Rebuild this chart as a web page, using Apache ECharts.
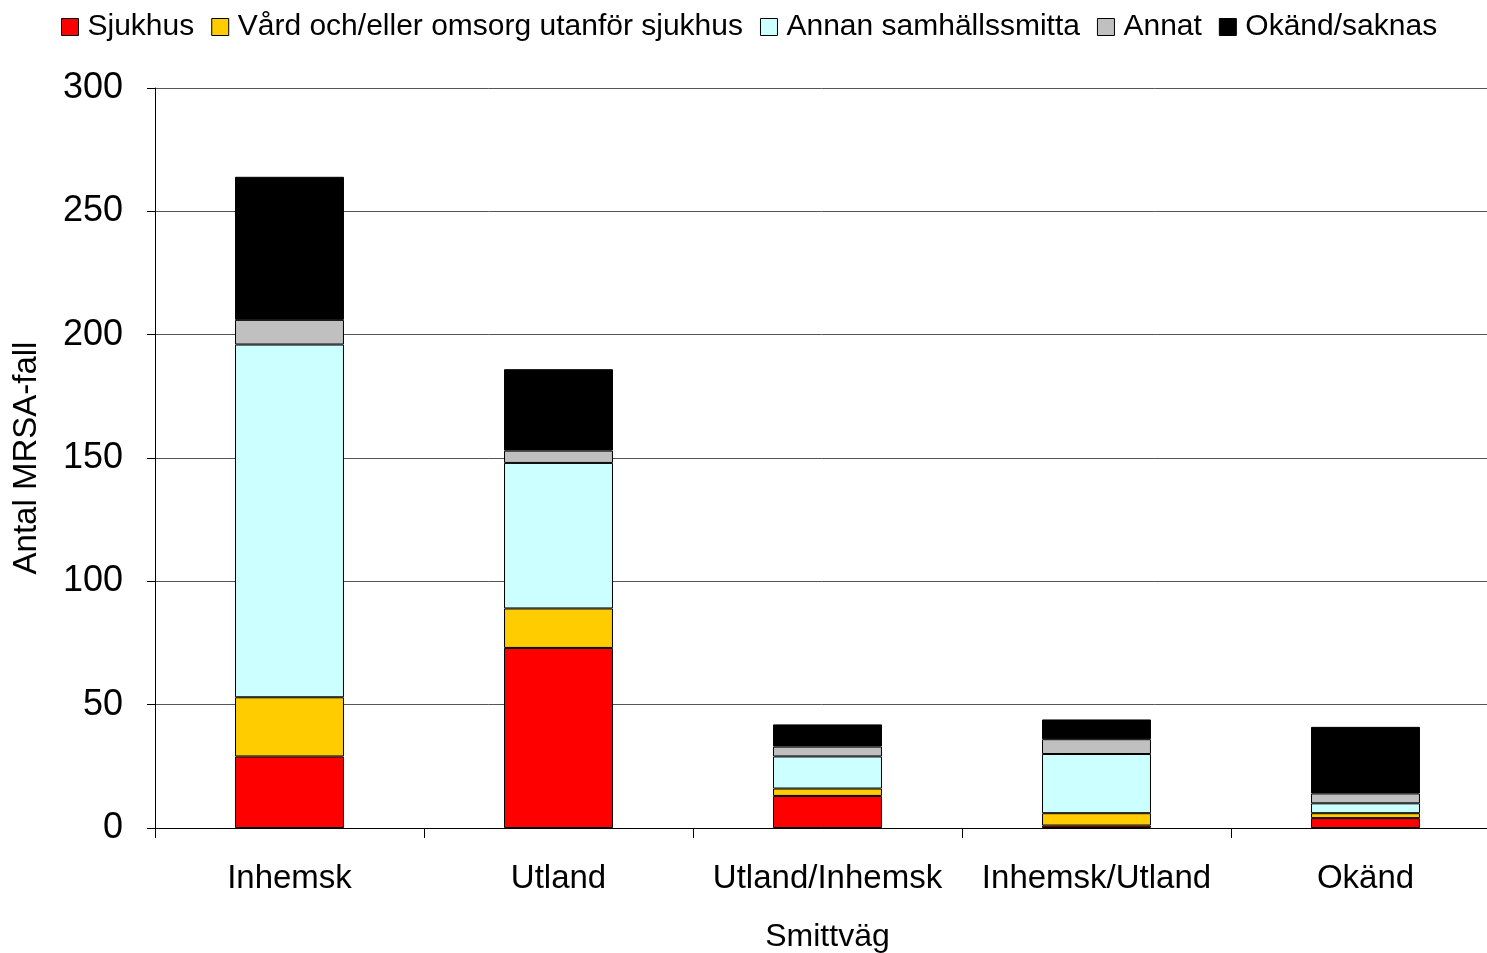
<!DOCTYPE html>
<html><head><meta charset="utf-8">
<script src="https://cdn.jsdelivr.net/npm/echarts@6/dist/echarts.min.js"></script>
<style>html,body{margin:0;padding:0;background:#fff}#c{width:1487px;height:953px}</style>
</head><body><div id="c"></div>
<script>
var categories = ['Inhemsk', 'Utland', 'Utland/Inhemsk', 'Inhemsk/Utland', 'Okänd'];
var seriesNames = ['Sjukhus', 'Vård och/eller omsorg utanför sjukhus', 'Annan samhällssmitta', 'Annat', 'Okänd/saknas'];
var sjukhus = [29, 73, 13, 1, 4];
var vard = [24, 16, 3, 5, 2];
var annan = [143, 59, 13, 24, 4];
var annat = [10, 5, 4, 6, 4];
var okand = [58, 33, 9, 8, 27];
var colors = ['#ff0000', '#ffcc00', '#ccffff', '#c0c0c0', '#000000'];
var values = [sjukhus, vard, annan, annat, okand];
var font = 'Liberation Sans, Arial, sans-serif';
var chart = echarts.init(document.getElementById('c'));
chart.setOption({
  animation: false,
  textStyle: {fontFamily: font},
  legend: {
    left: 56, top: 7, itemWidth: 17, itemHeight: 17, itemGap: 17,
    textStyle: {fontSize: 30, color: '#000', fontFamily: font, padding: [0, 0, 0, 4]},
    data: seriesNames.map(function (n, i) { return {name: n, icon: 'rect', itemStyle: {borderColor: '#000', borderWidth: 1}}; })
  },
  grid: {left: 155, right: -13, top: 88, bottom: 125, containLabel: false, outerBoundsMode: 'none'},
  xAxis: {
    type: 'category', data: categories,
    name: 'Smittväg', nameLocation: 'middle', nameGap: 93,
    nameTextStyle: {fontSize: 32, color: '#000', fontFamily: font},
    axisLine: {lineStyle: {color: '#000', width: 1}},
    axisTick: {show: true, length: 10, interval: 0, lineStyle: {color: '#000'}},
    axisLabel: {fontSize: 33, color: '#000', margin: 34, interval: 0, fontFamily: font}
  },
  yAxis: {
    type: 'value', min: 0, max: 300, interval: 50,
    name: 'Antal MRSA-fall', nameLocation: 'middle', nameGap: 112, nameRotate: 90,
    nameTextStyle: {fontSize: 33, color: '#000', fontFamily: font},
    axisLine: {show: true, lineStyle: {color: '#000', width: 1}},
    axisTick: {show: true, length: 8, lineStyle: {color: '#000'}},
    axisLabel: {fontSize: 36, color: '#000', margin: 32, fontFamily: font},
    splitLine: {lineStyle: {color: '#555', width: 1}}
  },
  series: seriesNames.map(function (n, i) {
    return {
      name: n, type: 'bar', stack: 'total', data: values[i], barWidth: '40.5%',
      itemStyle: {color: colors[i], borderColor: '#000', borderWidth: 1}
    };
  })
});
</script></body></html>
